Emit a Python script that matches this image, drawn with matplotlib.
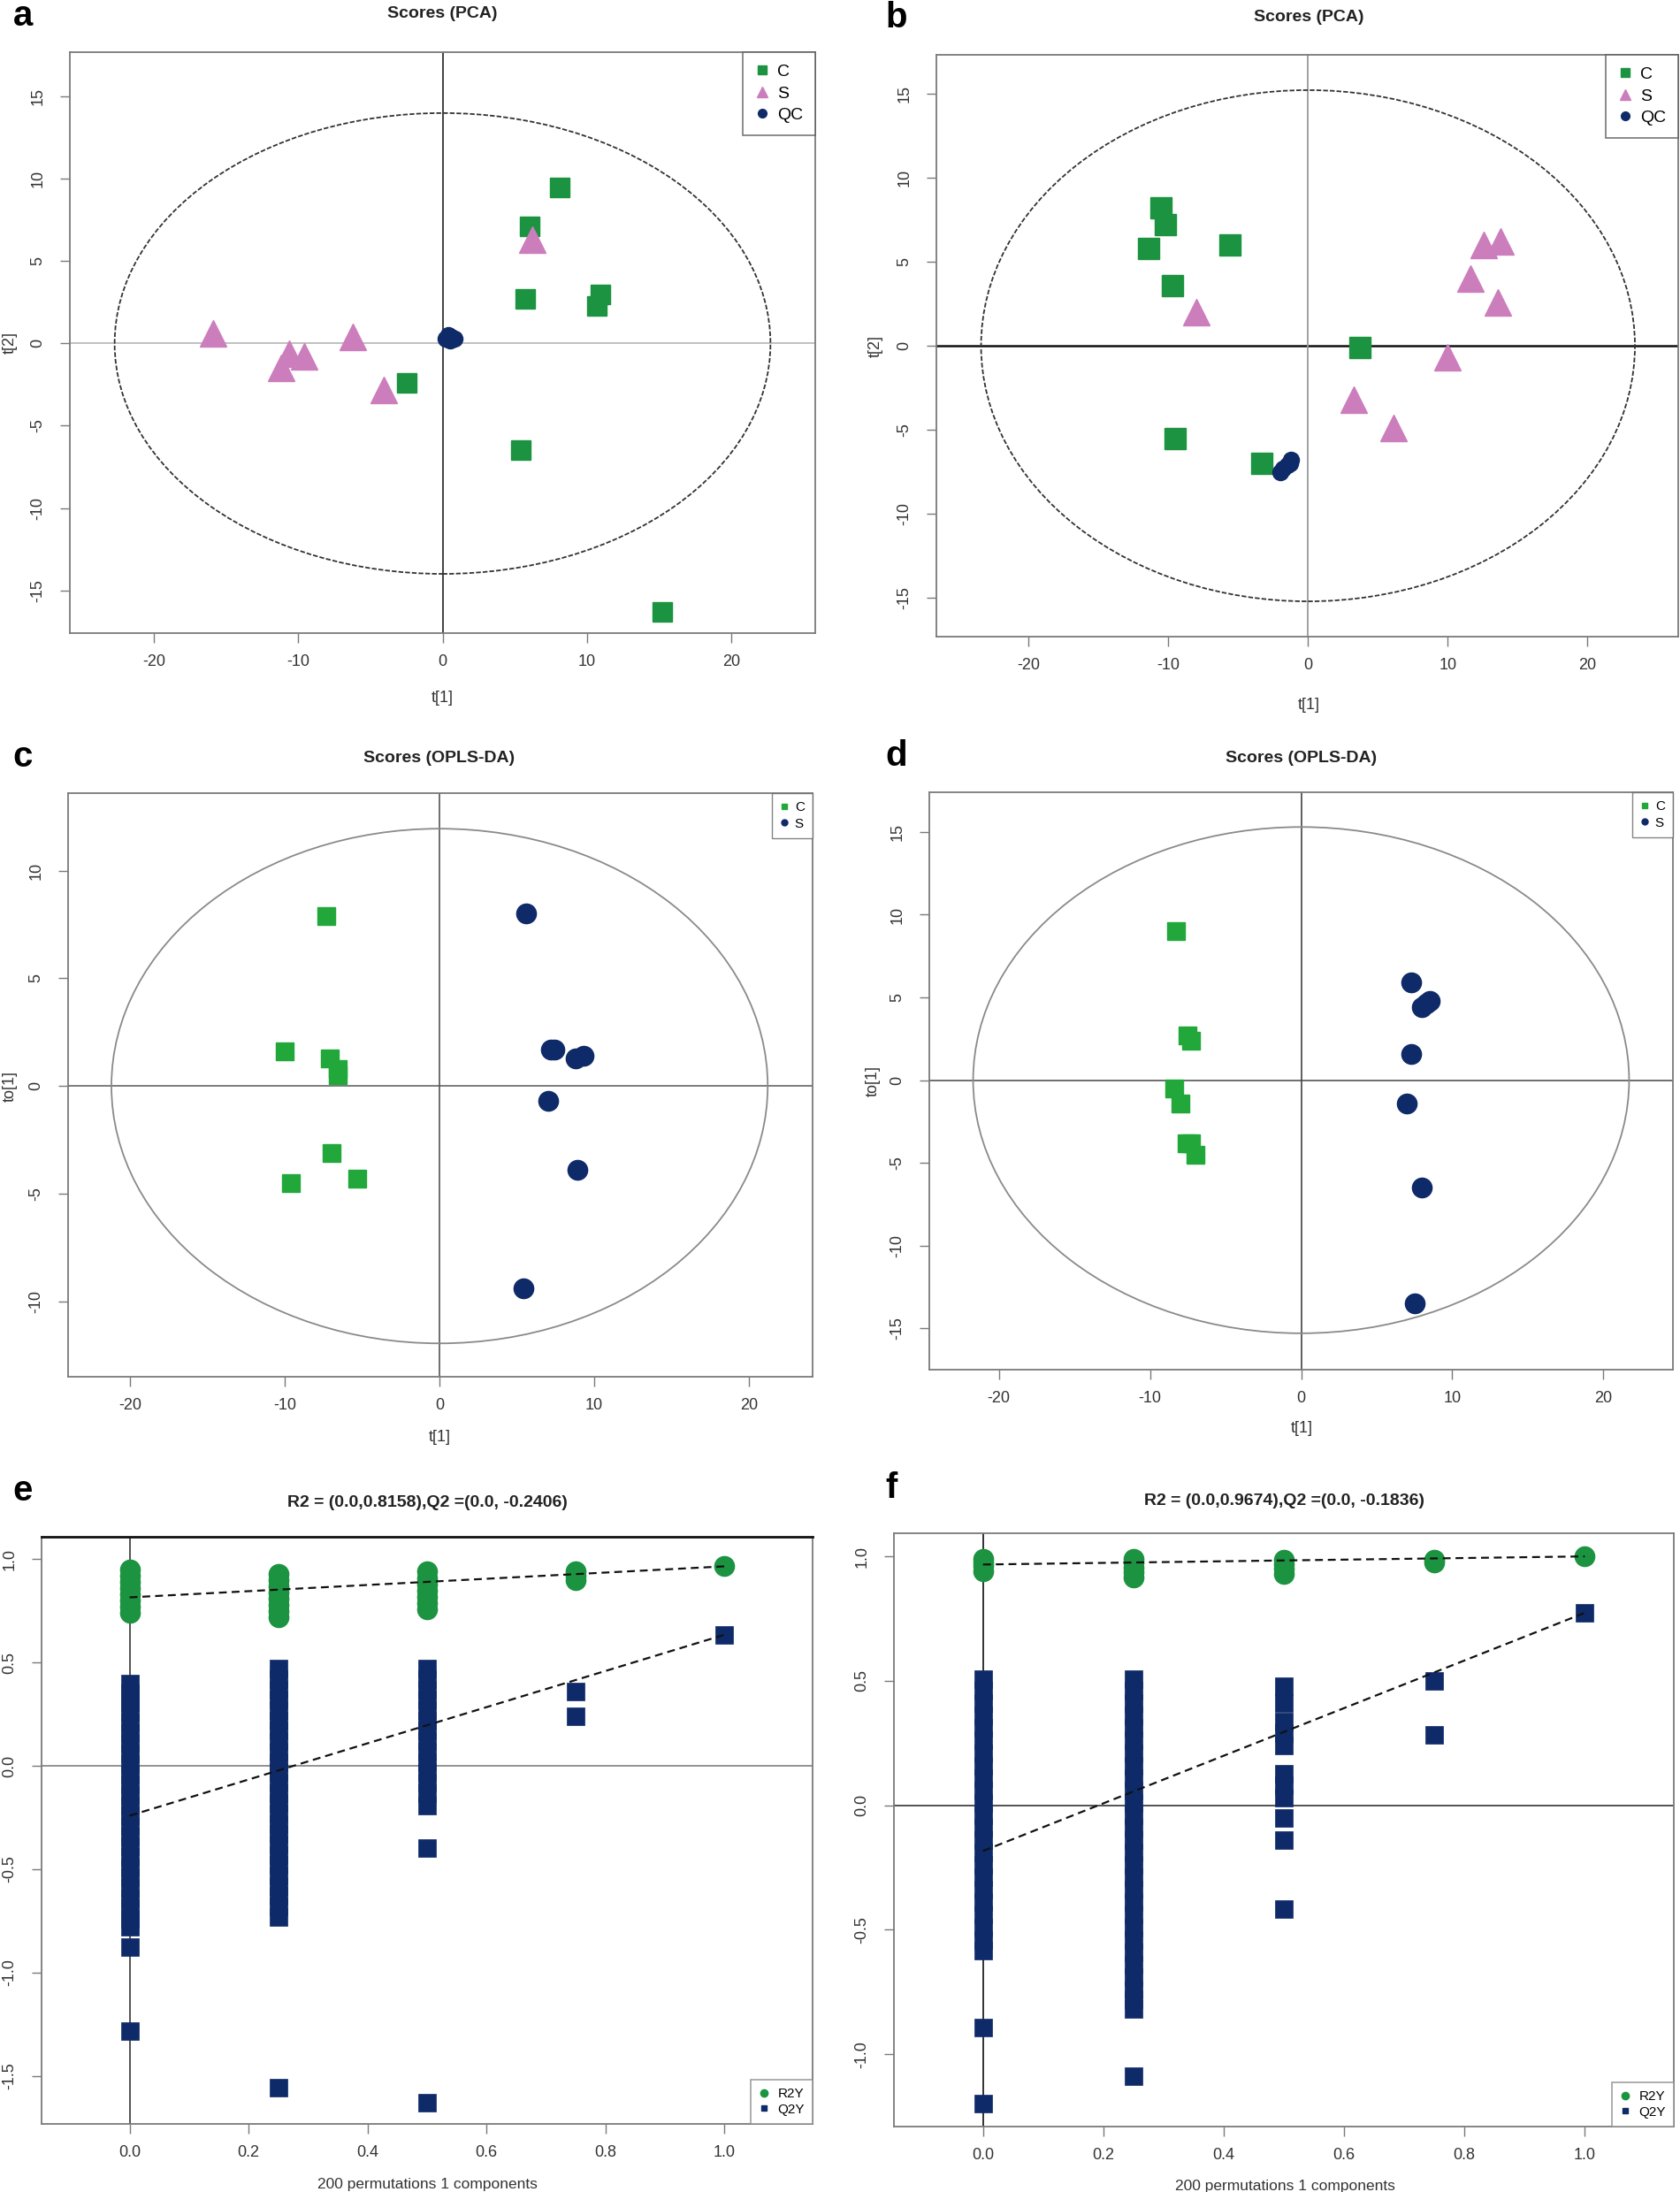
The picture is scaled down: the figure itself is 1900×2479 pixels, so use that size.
import numpy as np
import matplotlib.pyplot as plt
from matplotlib.patches import Ellipse
from matplotlib.lines import Line2D

plt.rcParams['font.family'] = ['Liberation Sans', 'DejaVu Sans']
plt.rcParams['axes.unicode_minus'] = False

W, H = 1900, 2479
GREEN = '#1c9340'
PINK = '#cc7dbc'
NAVY = '#0f2a68'
FRAME = '#7a7a7a'

# ---- panel a : PCA scores ----
a_c_x = [8.1, 6.0, 5.7, 10.9, 10.7, -2.5, 5.4, 15.2]
a_c_y = [9.5, 7.1, 2.7, 3.0, 2.3, -2.4, -6.5, -16.3]
a_s_x = [-15.9, -10.6, -9.6, -11.2, -6.2, -4.1, 6.2]
a_s_y = [0.6, -0.6, -0.8, -1.5, 0.4, -2.8, 6.3]
a_qc_x = [0.2, 0.4, 0.6, 0.8, 0.5]
a_qc_y = [0.3, 0.5, 0.4, 0.3, 0.2]

# ---- panel b : PCA scores ----
b_c_x = [-10.5, -10.2, -11.4, -5.6, -9.7, -9.5, -3.3, 3.7]
b_c_y = [8.2, 7.2, 5.8, 6.0, 3.6, -5.5, -7.0, -0.1]
b_s_x = [-8.0, 12.6, 13.8, 11.6, 13.6, 10.0, 3.3, 6.1]
b_s_y = [2.0, 6.0, 6.2, 4.0, 2.6, -0.7, -3.2, -4.9]
b_qc_x = [-2.0, -1.8, -1.5, -1.3, -1.2]
b_qc_y = [-7.5, -7.3, -7.1, -7.0, -6.8]

# ---- panel c : OPLS-DA scores ----
c_c_x = [-7.3, -10.0, -7.1, -6.6, -6.6, -7.0, -9.6, -5.3]
c_c_y = [7.9, 1.6, 1.3, 0.8, 0.5, -3.1, -4.5, -4.3]
c_s_x = [5.6, 7.2, 7.4, 8.8, 9.3, 7.0, 8.9, 5.4]
c_s_y = [8.0, 1.7, 1.7, 1.3, 1.4, -0.7, -3.9, -9.4]

# ---- panel d : OPLS-DA scores ----
d_c_x = [-8.3, -7.5, -7.3, -8.4, -8.0, -7.6, -7.3, -7.0]
d_c_y = [9.0, 2.7, 2.4, -0.5, -1.4, -3.8, -3.8, -4.5]
d_s_x = [7.3, 8.0, 8.5, 8.3, 7.3, 7.0, 8.0, 7.5]
d_s_y = [5.9, 4.4, 4.8, 4.6, 1.6, -1.4, -6.5, -13.5]

# Hotelling ellipse half axes (t1, t2) per panel
ell_a = (22.7, 14.0)
ell_b = (23.4, 15.2)
ell_c = (21.2, 11.95)
ell_d = (21.7, 15.3)

# ---- panels e / f : permutation tests ----
perm_x = [0.0, 0.25, 0.5, 0.75, 1.0]

e_r2 = [
    [0.74, 0.77, 0.80, 0.83, 0.86, 0.89, 0.92, 0.95],
    [0.72, 0.75, 0.78, 0.81, 0.84, 0.87, 0.90, 0.93],
    [0.76, 0.79, 0.82, 0.85, 0.88, 0.91, 0.94],
    [0.90, 0.92, 0.94],
    [0.966],
]
e_q2 = [
    [0.40, 0.35, 0.31, 0.26, 0.21, 0.16, 0.11, 0.06, 0.01, -0.04, -0.09, -0.14,
     -0.19, -0.24, -0.29, -0.34, -0.39, -0.44, -0.49, -0.54, -0.59, -0.64,
     -0.69, -0.74, -0.78, -0.875, -1.284],
    [0.47, 0.42, 0.37, 0.32, 0.27, 0.22, 0.17, 0.12, 0.07, 0.02, -0.03, -0.08,
     -0.13, -0.18, -0.23, -0.28, -0.33, -0.38, -0.43, -0.48, -0.53, -0.58,
     -0.63, -0.68, -0.73, -1.557],
    [0.47, 0.42, 0.37, 0.32, 0.27, 0.22, 0.17, 0.12, 0.07, 0.02, -0.03, -0.08,
     -0.13, -0.19, -0.395, -1.63],
    [0.359, 0.239],
    [0.635],
]
e_r2_line = [0.8158, 0.966]
e_q2_line = [-0.2406, 0.635]

f_r2 = [
    [0.94, 0.96, 0.975, 0.99],
    [0.915, 0.935, 0.955, 0.975, 0.99],
    [0.93, 0.95, 0.97, 0.985],
    [0.975, 0.985],
    [1.0],
]
f_q2 = [
    [0.507, 0.46, 0.41, 0.36, 0.31, 0.26, 0.21, 0.16, 0.11, 0.06, 0.01, -0.04,
     -0.09, -0.14, -0.19, -0.24, -0.29, -0.34, -0.39, -0.44, -0.49, -0.54,
     -0.584, -0.894, -1.2],
    [0.508, 0.46, 0.41, 0.36, 0.31, 0.26, 0.21, 0.16, 0.11, 0.06, 0.01, -0.04,
     -0.09, -0.14, -0.19, -0.24, -0.29, -0.34, -0.39, -0.44, -0.49, -0.54,
     -0.59, -0.64, -0.69, -0.74, -0.78, -0.82, -1.089],
    [0.478, 0.412, 0.338, 0.29, 0.242, 0.128, 0.08, 0.032, -0.05, -0.14, -0.416],
    [0.5, 0.282],
    [0.773],
]
f_r2_line = [0.9674, 1.0]
f_q2_line = [-0.1836, 0.773]


def rect(l, t, r, b):
    return [l / W, 1 - b / H, (r - l) / W, (b - t) / H]


def ftext(fig, x, y, s, **kw):
    fig.text(x / W, 1 - y / H, s, ha='center', va='center', **kw)


def style_axes(ax, xlim, ylim, xticks, yticks, fmt):
    ax.set_xlim(*xlim)
    ax.set_ylim(*ylim)
    ax.set_xticks(xticks)
    ax.set_yticks(yticks)
    ax.set_xticklabels([fmt.format(v) for v in xticks])
    ax.set_yticklabels([fmt.format(v) for v in yticks], rotation=90, va='center')
    ax.tick_params(length=8, width=1, color=FRAME, labelsize=13, labelcolor='#333333', pad=9)
    ax.tick_params(axis='y', pad=12)
    for sp in ax.spines.values():
        sp.set_color(FRAME)
        sp.set_linewidth(1.3)


def score_panel(ax, ell, ell_style, xlim, ylim, yticks, hcol, hlw, vcol, vlw):
    ax.axhline(0, color=hcol, lw=hlw, zorder=1)
    ax.axvline(0, color=vcol, lw=vlw, zorder=1)
    ax.add_patch(Ellipse((0, 0), 2 * ell[0], 2 * ell[1], fill=False, zorder=1, **ell_style))
    style_axes(ax, xlim, ylim, [-20, -10, 0, 10, 20], yticks, '{:g}')


fig = plt.figure(figsize=(W / 100, H / 100), dpi=100)

dash_ell = dict(edgecolor='#333333', lw=1.3, ls=(0, (3, 1.2)))
solid_ell = dict(edgecolor='#8a8a8a', lw=1.3)

# ---------------- a ----------------
ax = fig.add_axes(rect(79, 59, 922, 716))
score_panel(ax, ell_a, dash_ell, (-25.8, 25.8), (-17.6, 17.7), [-15, -10, -5, 0, 5, 10, 15],
            '#b5b5b5', 1.2, '#333333', 1.3)
ax.plot(a_c_x, a_c_y, ls='none', marker='s', ms=16.5, color=GREEN, mec=GREEN, zorder=3)
ax.plot(a_s_x, a_s_y, ls='none', marker='^', ms=21, color=PINK, mec=PINK, zorder=3)
ax.plot(a_qc_x, a_qc_y, ls='none', marker='o', ms=13, color=NAVY, mec=NAVY, zorder=3)
h = [Line2D([], [], ls='none', marker='s', ms=7, color=GREEN),
     Line2D([], [], ls='none', marker='^', ms=9, color=PINK),
     Line2D([], [], ls='none', marker='o', ms=7, color=NAVY)]
leg = ax.legend(h, ['C', 'S', 'QC'], loc='upper right', fontsize=14, frameon=True,
                fancybox=False, borderaxespad=0, handlelength=0.8, handletextpad=0.5,
                labelspacing=0.35, borderpad=0.7)
leg.get_frame().set_edgecolor('#555555')
leg.get_frame().set_linewidth(1.2)
ftext(fig, 500, 16, 'Scores (PCA)', fontsize=14, fontweight='bold', color='#222222')
ftext(fig, 500, 789, 't[1]', fontsize=13, color='#333333')
ftext(fig, 11, 388, 't[2]', fontsize=13, color='#333333', rotation=90)
ftext(fig, 26, 18, 'a', fontsize=29, fontweight='bold')

# ---------------- b ----------------
ax = fig.add_axes(rect(1059, 62, 1898, 720))
score_panel(ax, ell_b, dash_ell, (-26.6, 26.5), (-17.3, 17.3), [-15, -10, -5, 0, 5, 10, 15],
            '#111111', 1.8, '#9a9a9a', 1.3)
ax.plot(b_c_x, b_c_y, ls='none', marker='s', ms=17, color=GREEN, mec=GREEN, zorder=3)
ax.plot(b_s_x, b_s_y, ls='none', marker='^', ms=22, color=PINK, mec=PINK, zorder=3)
ax.plot(b_qc_x, b_qc_y, ls='none', marker='o', ms=13, color=NAVY, mec=NAVY, zorder=3)
leg = ax.legend(h, ['C', 'S', 'QC'], loc='upper right', fontsize=14, frameon=True,
                fancybox=False, borderaxespad=0, handlelength=0.8, handletextpad=0.5,
                labelspacing=0.35, borderpad=0.7)
leg.get_frame().set_edgecolor('#555555')
leg.get_frame().set_linewidth(1.2)
ftext(fig, 1480, 19, 'Scores (PCA)', fontsize=14, fontweight='bold', color='#222222')
ftext(fig, 1480, 797, 't[1]', fontsize=13, color='#333333')
ftext(fig, 990, 391, 't[2]', fontsize=13, color='#333333', rotation=90)
ftext(fig, 1014, 20, 'b', fontsize=29, fontweight='bold')

# ---------------- c ----------------
h2 = [Line2D([], [], ls='none', marker='s', ms=5, color='#22a83a'),
      Line2D([], [], ls='none', marker='o', ms=5, color=NAVY)]
ax = fig.add_axes(rect(77, 897, 919, 1557))
score_panel(ax, ell_c, solid_ell, (-24.0, 24.1), (-13.5, 13.6), [-10, -5, 0, 5, 10],
            '#666666', 1.2, '#555555', 1.2)
ax.plot(c_c_x, c_c_y, ls='none', marker='s', ms=15, color='#22a83a', mec='#22a83a', zorder=3)
ax.plot(c_s_x, c_s_y, ls='none', marker='o', ms=16, color=NAVY, mec=NAVY, zorder=3)
leg = ax.legend(h2, ['C', 'S'], loc='upper right', fontsize=11, frameon=True,
                fancybox=False, borderaxespad=0, handlelength=0.6, handletextpad=0.5,
                labelspacing=0.3, borderpad=0.6)
leg.get_frame().set_edgecolor('#666666')
ftext(fig, 497, 858, 'Scores (OPLS-DA)', fontsize=14, fontweight='bold', color='#222222')
ftext(fig, 497, 1626, 't[1]', fontsize=13, color='#333333')
ftext(fig, 11, 1228, 'to[1]', fontsize=13, color='#333333', rotation=90)
ftext(fig, 26, 856, 'c', fontsize=29, fontweight='bold')

# ---------------- d ----------------
ax = fig.add_axes(rect(1051, 896, 1892, 1549))
score_panel(ax, ell_d, solid_ell, (-24.6, 24.6), (-17.5, 17.4), [-15, -10, -5, 0, 5, 10, 15],
            '#555555', 1.2, '#444444', 1.2)
ax.plot(d_c_x, d_c_y, ls='none', marker='s', ms=15, color='#22a83a', mec='#22a83a', zorder=3)
ax.plot(d_s_x, d_s_y, ls='none', marker='o', ms=16, color=NAVY, mec=NAVY, zorder=3)
leg = ax.legend(h2, ['C', 'S'], loc='upper right', fontsize=11, frameon=True,
                fancybox=False, borderaxespad=0, handlelength=0.6, handletextpad=0.5,
                labelspacing=0.3, borderpad=0.6)
leg.get_frame().set_edgecolor('#666666')
ftext(fig, 1472, 858, 'Scores (OPLS-DA)', fontsize=14, fontweight='bold', color='#222222')
ftext(fig, 1472, 1616, 't[1]', fontsize=13, color='#333333')
ftext(fig, 987, 1222, 'to[1]', fontsize=13, color='#333333', rotation=90)
ftext(fig, 1014, 855, 'd', fontsize=29, fontweight='bold')


# ---------------- e / f ----------------
def perm_panel(ax, r2, q2, r2_line, q2_line, ylim, yticks, hcol, vcol):
    ax.axhline(0, color=hcol, lw=1.3, zorder=1)
    ax.axvline(0, color=vcol, lw=1.3, zorder=1)
    for xv, vals in zip(perm_x, q2):
        ax.plot([xv] * len(vals), vals, ls='none', marker='s', ms=15, color=NAVY,
                mec=NAVY, mew=0.5, zorder=2)
    for xv, vals in zip(perm_x, r2):
        ax.plot([xv] * len(vals), vals, ls='none', marker='o', ms=16, color=GREEN,
                mec=GREEN, zorder=3)
    ax.plot([perm_x[0], perm_x[-1]], r2_line, color='#111111', lw=1.6, ls=(0, (4, 2.5)), zorder=4)
    ax.plot([perm_x[0], perm_x[-1]], q2_line, color='#111111', lw=1.6, ls=(0, (4, 2.5)), zorder=4)
    style_axes(ax, (-0.148, 1.148), ylim, [0.0, 0.2, 0.4, 0.6, 0.8, 1.0], yticks, '{:.1f}')
    hh = [Line2D([], [], ls='none', marker='o', ms=6, color=GREEN),
          Line2D([], [], ls='none', marker='s', ms=5, color=NAVY)]
    lg = ax.legend(hh, ['R2Y', 'Q2Y'], loc='lower right', fontsize=11, frameon=True,
                   fancybox=False, borderaxespad=0, handlelength=0.8, handletextpad=0.6,
                   labelspacing=0.25, borderpad=0.6)
    lg.get_frame().set_edgecolor('#888888')
    lg.get_frame().set_linewidth(1.2)


ax = fig.add_axes(rect(47, 1738, 919, 2402))
perm_panel(ax, e_r2, e_q2, e_r2_line, e_q2_line, (-1.732, 1.109),
           [-1.5, -1.0, -0.5, 0.0, 0.5, 1.0], '#8a8a8a', '#444444')
ax.spines['top'].set_color('#111111')
ax.spines['top'].set_linewidth(2)
ftext(fig, 483, 1700, 'R2 = (0.0,0.8158),Q2 =(0.0, -0.2406)', fontsize=14,
      fontweight='bold', color='#222222')
ftext(fig, 483, 2470, '200 permutations 1 components', fontsize=12.5, color='#333333')
ftext(fig, 26, 1686, 'e', fontsize=29, fontweight='bold')

ax = fig.add_axes(rect(1011, 1734, 1893, 2405))
perm_panel(ax, f_r2, f_q2, f_r2_line, f_q2_line, (-1.291, 1.093),
           [-1.0, -0.5, 0.0, 0.5, 1.0], '#444444', '#222222')
ftext(fig, 1453, 1697, 'R2 = (0.0,0.9674),Q2 =(0.0, -0.1836)', fontsize=14,
      fontweight='bold', color='#222222')
ftext(fig, 1453, 2472, '200 permutations 1 components', fontsize=12.5, color='#333333')
ftext(fig, 1008, 1683, 'f', fontsize=29, fontweight='bold')

fig.savefig('out.png', dpi=100, facecolor='white')
